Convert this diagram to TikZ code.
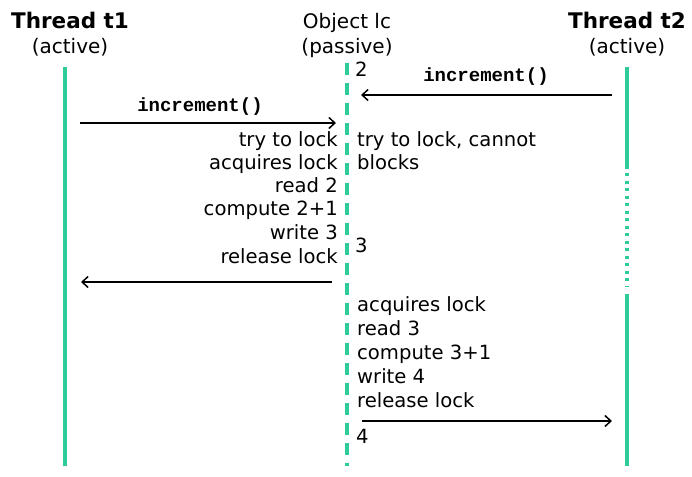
\documentclass[tikz,border=0pt]{standalone}
\usepackage{fontspec}
\setmainfont{DejaVu Sans}
\setmonofont{Liberation Mono}
\usetikzlibrary{arrows.meta}
\definecolor{life}{RGB}{46,204,154}
\begin{document}
\begin{tikzpicture}[x=1pt,y=-1pt,
  title/.style={font=\fontsize{21.5}{24}\selectfont\bfseries, inner sep=0pt, anchor=base},
  sub/.style={font=\fontsize{20}{23}\selectfont, inner sep=0pt, anchor=base},
  txtL/.style={font=\fontsize{19.6}{23.5}\selectfont, inner sep=0pt, anchor=base east},
  txtR/.style={font=\fontsize{19.6}{23.5}\selectfont, inner sep=0pt, anchor=base west},
  msg/.style={font=\fontsize{19}{20}\selectfont\ttfamily\bfseries, inner sep=0pt, anchor=base},
  lifeline/.style={draw=life, line width=3.2pt},
  arr/.style={draw=black, line width=1.3pt, -{Straight Barb[length=6pt,width=11pt,line width=1.5pt]}}]
\useasboundingbox (0,0) rectangle (692,476);
% headers
\node[title] (h1) at (70,29) {Thread t1};
\node[sub] (h1s) at (70,54) {(active)};
\node[sub] (hl) at (347,29) {Object lc};
\node[sub] (hls) at (347,54) {(passive)};
\node[title] (h2) at (627,29) {Thread t2};
\node[sub] (h2s) at (627,54) {(active)};
% lifelines
\coordinate (t1a) at (65,67);
\coordinate (t1b) at (65,466);
\draw[lifeline] (t1a) -- (t1b);
\coordinate (lca) at (347,63);
\coordinate (lcb) at (347,466);
\draw[lifeline, dash pattern=on 12pt off 8pt] (lca) -- (lcb);
\coordinate (t2a) at (627,67);
\coordinate (t2b) at (627,169);
\coordinate (t2c) at (627,173);
\coordinate (t2d) at (627,286);
\coordinate (t2e) at (627,294);
\coordinate (t2f) at (627,466);
\draw[lifeline] (t2a) -- (t2b);
\draw[lifeline, dash pattern=on 3pt off 4.5pt] (t2c) -- (t2d);
\draw[lifeline] (t2e) -- (t2f);
% messages
\coordinate (m1a) at (80,123);
\coordinate (m1b) at (336,123);
\draw[arr] (m1a) -- (m1b);
\node[msg] (m1l) at (200,111) {increment()};
\coordinate (m2a) at (612,95);
\coordinate (m2b) at (361,95);
\draw[arr] (m2a) -- (m2b);
\node[msg] (m2l) at (486,82) {increment()};
\coordinate (m3a) at (332,282);
\coordinate (m3b) at (81,282);
\draw[arr] (m3a) -- (m3b);
\coordinate (m4a) at (362,421);
\coordinate (m4b) at (612,421);
\draw[arr] (m4a) -- (m4b);
% left texts
\node[txtL] (l1) at (338,146) {try to lock};
\node[txtL] (l2) at (338,169) {acquires lock};
\node[txtL] (l3) at (338,192) {read 2};
\node[txtL] (l4) at (338,215) {compute 2+1};
\node[txtL] (l5) at (338,239) {write 3};
\node[txtL] (l6) at (338,263) {release lock};
% right texts
\node[txtR] (r0) at (355,77) {2};
\node[txtR] (r1) at (357,146) {try to lock, cannot};
\node[txtR] (r2) at (357,169) {blocks};
\node[txtR] (r3) at (355,252) {3};
\node[txtR] (r4) at (357,311) {acquires lock};
\node[txtR] (r5) at (357,335) {read 3};
\node[txtR] (r6) at (357,359) {compute 3+1};
\node[txtR] (r7) at (357,383) {write 4};
\node[txtR] (r8) at (357,407) {release lock};
\node[txtR] (r9) at (356,443) {4};
\end{tikzpicture}
\end{document}
